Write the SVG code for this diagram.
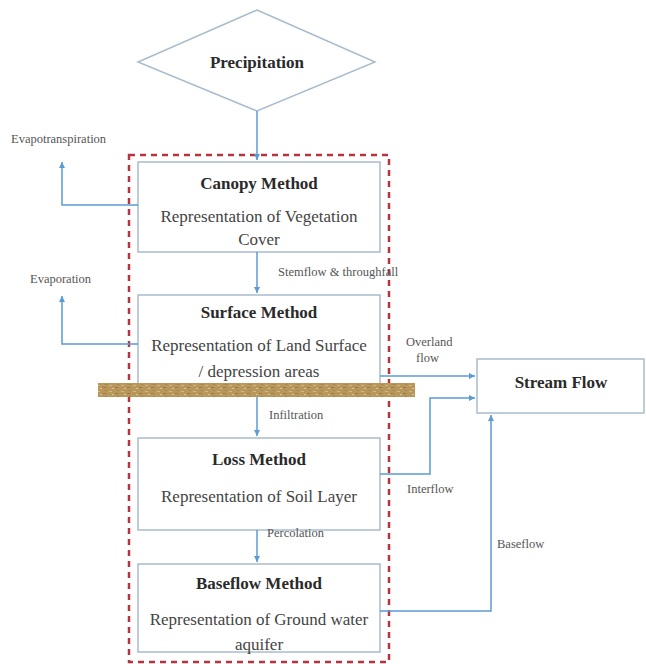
<svg xmlns="http://www.w3.org/2000/svg" width="646" height="664" viewBox="0 0 646 664">
<style>
.box{fill:#fff;stroke:#a9bccd;stroke-width:1.5}
.title{font-weight:bold;font-size:17px;fill:#2a2a2a;text-anchor:middle}
.body{font-size:17px;fill:#444;text-anchor:middle}
.lbl{font-size:12.5px;fill:#555}
.conn{fill:none;stroke:#5b9bd5;stroke-width:1.5}
</style>
<defs>
<marker id="ah" markerWidth="8" markerHeight="8" refX="6" refY="4" orient="auto" markerUnits="userSpaceOnUse">
<path d="M0,1 L6,4 L0,7 z" fill="#5b9bd5"/>
</marker>
<pattern id="soil" width="12" height="6" patternUnits="userSpaceOnUse">
<rect width="12" height="6" fill="#b8975c"/>
<rect x="1" y="1" width="3" height="1" fill="#d6b77e"/>
<rect x="7" y="3" width="3" height="1" fill="#9c7a44"/>
<rect x="4" y="4" width="2" height="1" fill="#e0c48e"/>
<rect x="9" y="0" width="2" height="1" fill="#a5844c"/>
</pattern>
</defs>
<g font-family="Liberation Serif, Times New Roman, DejaVu Serif, serif">
<g id="precipitation">
<polygon points="257,10 375,62 257,111 138,62" fill="#fff" stroke="#a9bccd" stroke-width="1.5"/>
<text class="title" x="257" y="68">Precipitation</text>
</g>

<g id="boundary">
<rect x="129" y="155" width="260" height="507" fill="none" stroke="#b5343f" stroke-width="2.5" stroke-dasharray="6,5"/>
</g>

<g id="canopy">
<rect class="box" x="138" y="162" width="242" height="90"/>
<text class="title" x="259" y="189">Canopy Method</text>
<text class="body" x="259" y="222">Representation of Vegetation</text>
<text class="body" x="259" y="245">Cover</text>
</g>

<g id="surface">
<rect class="box" x="138" y="295" width="242" height="90"/>
<text class="title" x="259" y="318">Surface Method</text>
<text class="body" x="259" y="351">Representation of Land Surface</text>
<text class="body" x="259" y="377">/ depression areas</text>
</g>

<g id="soil-band">
<rect x="98" y="383" width="317" height="14" fill="url(#soil)"/>
</g>

<g id="loss">
<rect class="box" x="138" y="438" width="242" height="92"/>
<text class="title" x="259" y="465">Loss Method</text>
<text class="body" x="259" y="502">Representation of Soil Layer</text>
</g>

<g id="baseflow">
<rect class="box" x="138" y="564" width="242" height="88"/>
<text class="title" x="259" y="589">Baseflow Method</text>
<text class="body" x="259" y="625">Representation of Ground water</text>
<text class="body" x="259" y="650">aquifer</text>
</g>

<g id="streamflow">
<rect class="box" x="477" y="359" width="167" height="54"/>
<text class="title" x="561" y="388">Stream Flow</text>
</g>

<g id="connectors">
<path class="conn" d="M257,111 V160" marker-end="url(#ah)"/>
<path class="conn" d="M138,205 H62 V162" marker-end="url(#ah)"/>
<path class="conn" d="M257,252 V293" marker-end="url(#ah)"/>
<path class="conn" d="M138,344 H62 V296" marker-end="url(#ah)"/>
<path class="conn" d="M380,376 H475" marker-end="url(#ah)"/>
<path class="conn" d="M257,397 V436" marker-end="url(#ah)"/>
<path class="conn" d="M380,474 H430 V398 H475" marker-end="url(#ah)"/>
<path class="conn" d="M257,530 V562" marker-end="url(#ah)"/>
<path class="conn" d="M380,611 H491 V415" marker-end="url(#ah)"/>
</g>

<g id="labels">
<text class="lbl" x="11" y="143">Evapotranspiration</text>
<text class="lbl" x="30" y="283">Evaporation</text>
<text class="lbl" x="278" y="276">Stemflow &amp; throughfall</text>
<text class="lbl" x="406" y="346">Overland</text>
<text class="lbl" x="416" y="362">flow</text>
<text class="lbl" x="269" y="419">Infiltration</text>
<text class="lbl" x="407" y="493">Interflow</text>
<text class="lbl" x="267" y="537">Percolation</text>
<text class="lbl" x="497" y="548">Baseflow</text>
</g>
</g>
</svg>
